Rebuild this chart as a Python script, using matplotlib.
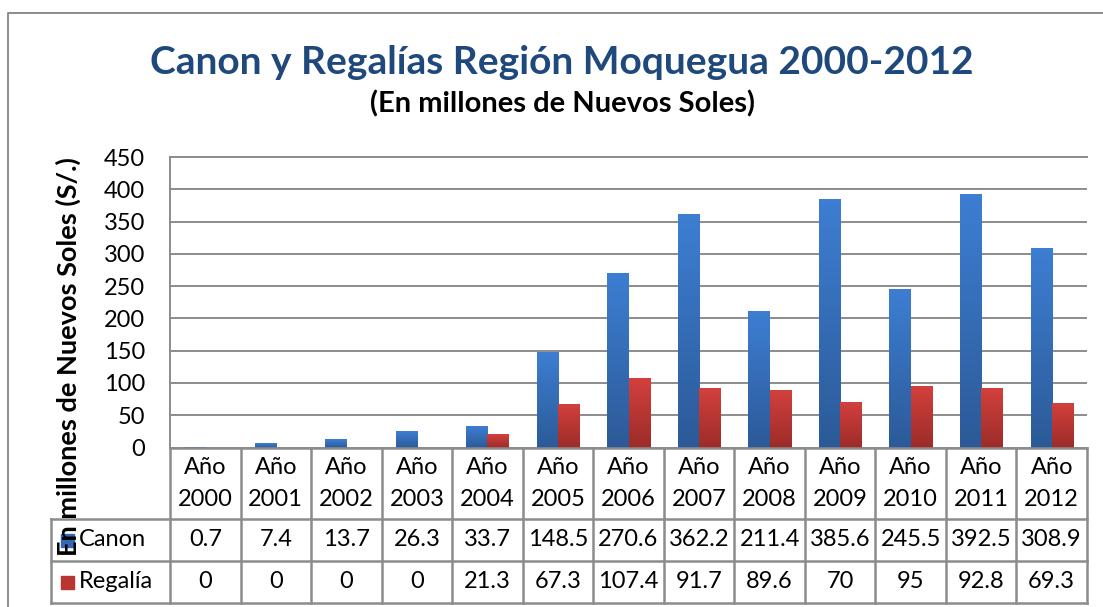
import numpy as np
import matplotlib.pyplot as plt
import matplotlib.transforms as mtransforms
from matplotlib.colors import LinearSegmentedColormap
from matplotlib.lines import Line2D
from matplotlib.patches import Rectangle

plt.rcParams['font.family'] = ['Lato', 'DejaVu Sans']

# ============================================================
# DATA
# ============================================================

years = [2000, 2001, 2002, 2003, 2004, 2005, 2006,
         2007, 2008, 2009, 2010, 2011, 2012]
canon = [0.7, 7.4, 13.7, 26.3, 33.7, 148.5, 270.6,
         362.2, 211.4, 385.6, 245.5, 392.5, 308.9]
regalia = [0, 0, 0, 0, 21.3, 67.3, 107.4,
           91.7, 89.6, 70, 95, 92.8, 69.3]
series_names = ["Canon", "Regalía"]
y_ticks = [0, 50, 100, 150, 200, 250, 300, 350, 400, 450]

# ============================================================
# STYLE
# ============================================================

W, H = 1103, 607
grid_col = "#8C8C8C"
blue_top, blue_bot = "#3D7ED2", "#2C5A98"
red_top, red_bot = "#D2403C", "#9C2C29"
title_col = "#1F497D"
fs = 17


def fx(px):
    return px / W


def fy(py):
    return 1 - py / H


fig = plt.figure(figsize=(W / 100, H / 100), dpi=100)

ax_l, ax_r, ax_t, ax_b = 170, 1087, 157, 447.5
ax = fig.add_axes([fx(ax_l), fy(ax_b), (ax_r - ax_l) / W, (ax_b - ax_t) / H])

x = np.arange(len(years))
bw = 0.30

bars_c = ax.bar(x - bw / 2, canon, bw, color=blue_bot, zorder=2)
bars_r = ax.bar(x + bw / 2, regalia, bw, color=red_bot, zorder=2)

# gradient fill on bars
grad = np.linspace(1, 0, 64).reshape(-1, 1)
for bars, (c_top, c_bot) in [(bars_c, (blue_top, blue_bot)),
                             (bars_r, (red_top, red_bot))]:
    cmap = LinearSegmentedColormap.from_list("g", [c_bot, c_top])
    for b in bars:
        h = b.get_height()
        if h <= 0:
            continue
        x0 = b.get_x()
        ax.imshow(grad, extent=[x0, x0 + b.get_width(), 0, h],
                  aspect="auto", cmap=cmap, zorder=3, origin="upper")

ax.set_xlim(-0.5, len(years) - 0.5)
ax.set_ylim(0, 450)
ax.set_yticks(y_ticks)
ax.set_xticks([])
ax.tick_params(axis="y", length=0, pad=18, labelsize=fs)
ax.yaxis.grid(True, color=grid_col, lw=1.4, zorder=0)
ax.set_axisbelow(True)
for s in ["left", "top", "bottom"]:
    ax.spines[s].set_color(grid_col)
    ax.spines[s].set_linewidth(1.4)
ax.spines["right"].set_visible(False)

# ============================================================
# DATA TABLE
# ============================================================

tr = mtransforms.blended_transform_factory(ax.transData, fig.transFigure)
row_y = [447.5, 519, 561, 603]
lab_left = -0.5 - (ax_l - 51) / ((ax_r - ax_l) / len(years))
right = len(years) - 0.5
tbl_kw = dict(color=grid_col, lw=1.8, transform=tr, clip_on=False)

# horizontal lines
fig.add_artist(Line2D([-0.5, right], [fy(row_y[0])] * 2, **tbl_kw))
for py in row_y[1:]:
    fig.add_artist(Line2D([lab_left, right], [fy(py)] * 2, **tbl_kw))
# vertical lines
for i in range(len(years) + 1):
    fig.add_artist(Line2D([i - 0.5] * 2, [fy(row_y[0]), fy(row_y[3])], **tbl_kw))
fig.add_artist(Line2D([lab_left] * 2, [fy(row_y[1]), fy(row_y[3])], **tbl_kw))

for i, yr in enumerate(years):
    fig.text(i, fy(467), "Año", transform=tr, ha="center", va="center", fontsize=fs)
    fig.text(i, fy(500), str(yr), transform=tr, ha="center", va="center", fontsize=fs)
    fig.text(i, fy(540), f"{canon[i]:g}", transform=tr, ha="center", va="center", fontsize=fs)
    fig.text(i, fy(582), f"{regalia[i]:g}", transform=tr, ha="center", va="center", fontsize=fs)

# legend keys inside table
for name, col, cy in [(series_names[0], "#3468B0", 540), (series_names[1], "#B83532", 582)]:
    fig.add_artist(Rectangle((fx(61), fy(cy + 7)), 13 / W, 13 / H,
                             transform=fig.transFigure, color=col, zorder=5))
    fig.text(fx(79), fy(cy), name, ha="left", va="center", fontsize=fs)

# ============================================================
# TITLES + FRAME
# ============================================================

fig.text(fx(562), fy(62), "Canon y Regalías Región Moquegua 2000-2012",
         ha="center", va="center", fontsize=28, fontweight="bold", color=title_col)
fig.text(fx(563), fy(104), "(En millones de Nuevos Soles)",
         ha="center", va="center", fontsize=21, fontweight="bold", color="black")
fig.text(fx(68), fy(357), "En millones de Nuevos Soles (S/.)", rotation=90,
         ha="center", va="center", fontsize=19.5, fontweight="bold", color="black",
         zorder=6)

fig.add_artist(Line2D([fx(8), fx(8), 1], [0, fy(13), fy(13)],
                      color=grid_col, lw=1.4, transform=fig.transFigure))

fig.savefig("out.png", dpi=100)
